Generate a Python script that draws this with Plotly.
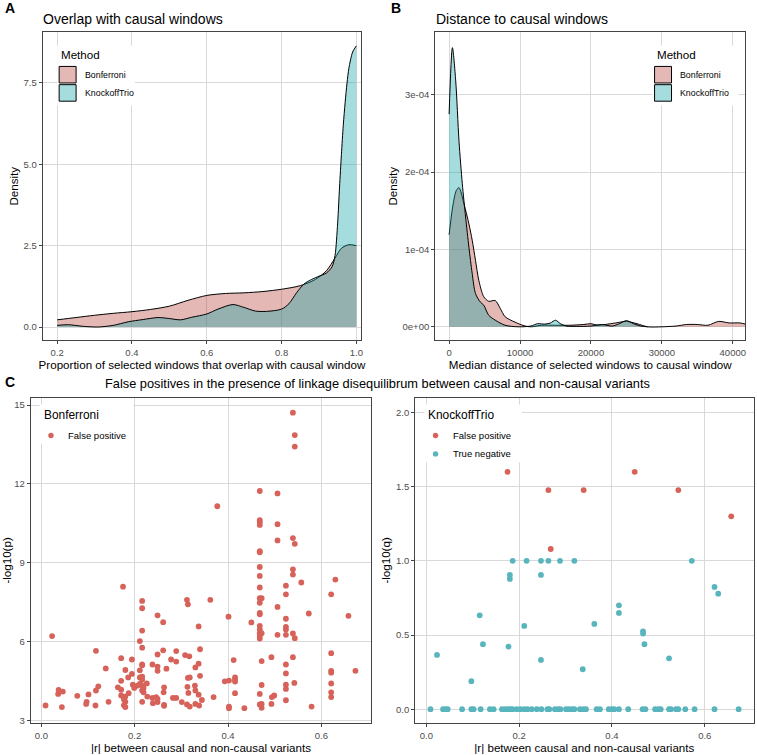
import plotly.graph_objects as go

# ---------------- data ----------------
# Panel A: density of proportion of selected windows overlapping causal window
a_bonf_x = [0.2, 0.25, 0.3, 0.35, 0.4, 0.45, 0.5, 0.55, 0.6, 0.65, 0.7, 0.75, 0.8, 0.85, 0.89, 0.92, 0.943, 0.96, 0.98, 1.0]
a_bonf_y = [0.22, 0.29, 0.36, 0.42, 0.47, 0.54, 0.64, 0.82, 0.97, 1.03, 1.05, 1.09, 1.16, 1.27, 1.46, 1.73, 2.12, 2.42, 2.53, 2.50]
a_ko_x = [0.2, 0.23, 0.27, 0.31, 0.35, 0.39, 0.43, 0.47, 0.5, 0.53, 0.56, 0.6, 0.63, 0.67, 0.7, 0.73, 0.76, 0.8, 0.82,
          0.84, 0.86, 0.88, 0.9, 0.92, 0.935, 0.943, 0.95, 0.955, 0.96, 0.965, 0.97, 0.975, 0.98, 0.99, 1.0]
a_ko_y = [0.05, 0.07, 0.02, 0.0, 0.05, 0.16, 0.23, 0.29, 0.26, 0.22, 0.30, 0.40, 0.55, 0.69, 0.60, 0.49, 0.48, 0.55, 0.72,
          1.05, 1.32, 1.46, 1.56, 1.66, 1.85, 2.2, 3.2, 4.3, 5.3, 6.2, 6.9, 7.5, 7.95, 8.45, 8.64]

# Panel B: density of median distance (values in units of 1e-4)
b_bonf_x = [0, 500, 1000, 1395, 2090, 2790, 3255, 3720, 4190, 4880, 5580, 6500, 7200, 7900, 9300, 10700, 11600, 13000,
            15000, 17000, 19000, 20000, 21000, 22000, 23500, 25000, 26500, 28000, 30000, 32000, 33500, 35000, 36500,
            38000, 39500, 41000, 42000]
b_bonf_y = [1.19, 1.55, 1.76, 1.80, 1.59, 1.33, 1.12, 0.86, 0.60, 0.39, 0.33, 0.34, 0.24, 0.13, 0.06, 0.01, 0.0, 0.02,
            0.02, 0.02, 0.03, 0.04, 0.02, 0.03, 0.05, 0.07, 0.04, 0.0, 0.0, 0.01, 0.03, 0.03, 0.02,
            0.07, 0.05, 0.05, 0.03]
b_ko_x = [0, 465, 930, 1395, 1860, 2325, 2790, 3255, 3720, 4400, 4880, 5580, 6500, 7900, 9770, 11500, 12500, 13500,
          14300, 15000, 15700, 16500, 18000, 20000, 21500, 23000, 24000, 25000, 26000, 27000, 28000]
b_ko_y = [2.75, 3.61, 3.18, 2.40, 1.85, 1.42, 1.03, 0.69, 0.43, 0.32, 0.28, 0.15, 0.086, 0.02, 0.0, 0.01, 0.04, 0.035,
          0.05, 0.085, 0.04, 0.01, 0.005, 0.01, 0.03, 0.01, 0.04, 0.08, 0.04, 0.01, 0.0]
b_unit = 1e-4

# Panel C left: Bonferroni false positives
bonf_r = [0.539, 0.543, 0.543, 0.468, 0.506, 0.377, 0.468, 0.468, 0.468, 0.506,
          0.506, 0.539, 0.543, 0.468, 0.468, 0.468, 0.539, 0.539, 0.468, 0.557,
          0.630, 0.175, 0.524, 0.468, 0.524, 0.621, 0.468, 0.472, 0.468, 0.216,
          0.312, 0.314, 0.362, 0.216, 0.506, 0.468, 0.468, 0.573, 0.249, 0.401,
          0.658, 0.261, 0.450, 0.524, 0.337, 0.468, 0.468, 0.524, 0.524, 0.468,
          0.472, 0.468, 0.468, 0.539, 0.543, 0.506, 0.524, 0.023, 0.216, 0.211,
          0.216, 0.117, 0.340, 0.289, 0.261, 0.249, 0.308, 0.317, 0.621, 0.539,
          0.493, 0.171, 0.194, 0.278, 0.289, 0.472, 0.412, 0.216, 0.216, 0.238,
          0.337, 0.524, 0.138, 0.249, 0.268, 0.330, 0.180, 0.211, 0.249, 0.621,
          0.621, 0.673, 0.524, 0.194, 0.186, 0.211, 0.216, 0.216, 0.314, 0.318,
          0.340, 0.415, 0.415, 0.415, 0.393, 0.402, 0.171, 0.226, 0.196, 0.211,
          0.216, 0.219, 0.122, 0.164, 0.199, 0.206, 0.263, 0.313, 0.329, 0.472,
          0.524, 0.524, 0.542, 0.621, 0.037, 0.046, 0.117, 0.171, 0.216, 0.219,
          0.330, 0.262, 0.036, 0.101, 0.187, 0.315, 0.337, 0.415, 0.468, 0.621,
          0.621, 0.077, 0.171, 0.180, 0.227, 0.246, 0.282, 0.289, 0.369, 0.499,
          0.494, 0.524, 0.344, 0.177, 0.249, 0.238, 0.097, 0.144, 0.180, 0.216,
          0.249, 0.301, 0.330, 0.096, 0.239, 0.009, 0.116, 0.177, 0.263, 0.312,
          0.338, 0.468, 0.472, 0.493, 0.579, 0.044, 0.180, 0.263, 0.318, 0.402,
          0.402, 0.435, 0.472]
bonf_p = [14.71, 13.86, 13.42, 11.73, 11.64, 11.15, 10.62, 10.54, 10.44, 10.47,
          9.85, 9.94, 9.72, 9.44, 9.40, 8.84, 8.75, 8.55, 8.50, 8.25,
          8.36, 8.09, 8.13, 8.06, 7.80, 7.80, 7.65, 7.65, 7.48, 7.55,
          7.59, 7.42, 7.59, 7.27, 7.32, 7.09, 7.04, 7.07, 7.00, 6.95,
          6.98, 6.74, 6.73, 6.87, 6.58, 6.60, 6.47, 6.56, 6.46, 6.32,
          6.32, 6.21, 6.12, 6.31, 6.13, 6.26, 6.26, 6.21, 6.42, 6.02,
          5.77, 5.65, 5.71, 5.64, 5.67, 5.51, 5.49, 5.44, 5.56, 5.41,
          5.41, 5.37, 5.32, 5.32, 5.24, 5.26, 5.30, 5.13, 5.10, 5.13,
          5.16, 5.13, 4.98, 5.05, 4.97, 5.02, 4.92, 4.91, 4.89, 4.89,
          4.82, 4.89, 4.79, 4.77, 4.64, 4.64, 4.67, 4.55, 4.62, 4.64,
          4.70, 4.64, 4.55, 4.48, 4.49, 4.52, 4.51, 4.41, 4.36, 4.39,
          4.33, 4.24, 4.30, 4.26, 4.24, 4.33, 4.26, 4.28, 4.33, 4.35,
          4.36, 4.20, 4.43, 4.41, 4.16, 4.10, 4.14, 4.17, 4.14, 4.07,
          4.14, 4.07, 4.01, 3.99, 4.04, 4.05, 3.98, 4.04, 4.01, 4.07,
          3.89, 3.94, 3.95, 3.91, 3.91, 3.89, 3.86, 3.86, 3.89, 3.95,
          3.89, 3.77, 3.78, 3.80, 3.82, 3.86, 3.71, 3.71, 3.71, 3.71,
          3.70, 3.70, 3.63, 3.63, 3.66, 3.57, 3.57, 3.58, 3.59, 3.61,
          3.57, 3.61, 3.63, 3.63, 3.53, 3.51, 3.51, 3.56, 3.53, 3.53,
          3.47, 3.47, 3.48]

# Panel C right: KnockoffTrio
ko_fp_r = [0.175, 0.449, 0.263, 0.339, 0.543, 0.657, 0.268]
ko_fp_q = [1.60, 1.60, 1.477, 1.477, 1.477, 1.30, 1.08]
ko_tn_r = [0.186, 0.216, 0.247, 0.263, 0.288, 0.319, 0.572, 0.180, 0.180, 0.247, 0.621, 0.629, 0.115, 0.415,
           0.415, 0.211, 0.362, 0.467, 0.467, 0.122, 0.470, 0.177, 0.023, 0.247, 0.523, 0.337, 0.097,
           0.009, 0.036, 0.041, 0.046, 0.077, 0.097, 0.102, 0.117, 0.137, 0.145, 0.163, 0.170, 0.176, 0.181,
           0.186, 0.195, 0.203, 0.211, 0.218, 0.227, 0.238, 0.248, 0.261, 0.265, 0.277, 0.284, 0.289, 0.301,
           0.307, 0.314, 0.319, 0.331, 0.338, 0.344, 0.367, 0.374, 0.393, 0.400, 0.405, 0.415, 0.435, 0.466,
           0.472, 0.493, 0.500, 0.505, 0.523, 0.527, 0.538, 0.543, 0.558, 0.578, 0.621, 0.673]
ko_tn_q = [1.0, 1.0, 1.0, 1.0, 1.0, 1.0, 1.0, 0.905, 0.878, 0.905, 0.824, 0.779, 0.633, 0.70,
           0.649, 0.561, 0.575, 0.525, 0.51, 0.438, 0.438, 0.422, 0.366, 0.332, 0.343, 0.269, 0.189,
           0.0, 0.0, 0.0, 0.0, 0.0, 0.0, 0.0, 0.0, 0.0, 0.0, 0.0, 0.0, 0.0, 0.0,
           0.0, 0.0, 0.0, 0.0, 0.0, 0.0, 0.0, 0.0, 0.0, 0.0, 0.0, 0.0, 0.0, 0.0,
           0.0, 0.0, 0.0, 0.0, 0.0, 0.0, 0.0, 0.0, 0.0, 0.0, 0.0, 0.0, 0.0, 0.0,
           0.0, 0.0, 0.0, 0.0, 0.0, 0.0, 0.0, 0.0, 0.0, 0.0, 0.0, 0.0]

methods = ["Bonferroni", "KnockoffTrio"]
outcomes = ["False positive", "True negative"]

a_xticks = [0.2, 0.4, 0.6, 0.8, 1.0]
a_xlabels = ["0.2", "0.4", "0.6", "0.8", "1.0"]
a_yticks = [0, 2.5, 5, 7.5]
a_ylabels = ["0.0", "2.5", "5.0", "7.5"]
b_xticks = [0, 10000, 20000, 30000, 40000]
b_xlabels = ["0", "10000", "20000", "30000", "40000"]
b_yticks = [0, 1e-4, 2e-4, 3e-4]
b_ylabels = ["0e+00", "1e-04", "2e-04", "3e-04"]
c_xticks = [0, 0.2, 0.4, 0.6]
c_xlabels = ["0.0", "0.2", "0.4", "0.6"]
cl_yticks = [3, 6, 9, 12, 15]
cl_ylabels = ["3", "6", "9", "12", "15"]
cr_yticks = [0, 0.5, 1.0, 1.5, 2.0]
cr_ylabels = ["0.0", "0.5", "1.0", "1.5", "2.0"]

# ---------------- style ----------------
W, H = 757, 755
FONT = "Liberation Sans, Arial, Helvetica, sans-serif"
PINK_FILL = "rgba(182,66,55,0.37)"
TEAL_FILL = "rgba(12,160,166,0.37)"
RED_PT = "#D7625A"
TEAL_PT = "#58B5BE"
GRID = "#d9d9d9"
BORDER = "#444444"
TICKC = "#4d4d4d"


def px(x):
    return x / W


def py(y):
    return 1 - y / H


fig = go.Figure()

# Panel A
fig.add_trace(go.Scatter(x=a_bonf_x, y=a_bonf_y, mode="lines", fill="tozeroy", fillcolor=PINK_FILL,
                         line=dict(color="black", width=1, shape="spline", smoothing=0.8),
                         xaxis="x", yaxis="y", showlegend=False, name=methods[0]))
fig.add_trace(go.Scatter(x=a_ko_x, y=a_ko_y, mode="lines", fill="tozeroy", fillcolor=TEAL_FILL,
                         line=dict(color="black", width=1, shape="spline", smoothing=0.8),
                         xaxis="x", yaxis="y", showlegend=False, name=methods[1]))
# Panel B
fig.add_trace(go.Scatter(x=b_bonf_x, y=[v * b_unit for v in b_bonf_y], mode="lines", fill="tozeroy",
                         fillcolor=PINK_FILL, line=dict(color="black", width=1, shape="spline", smoothing=0.8),
                         xaxis="x2", yaxis="y2", showlegend=False, name=methods[0]))
fig.add_trace(go.Scatter(x=b_ko_x, y=[v * b_unit for v in b_ko_y], mode="lines", fill="tozeroy",
                         fillcolor=TEAL_FILL, line=dict(color="black", width=1, shape="spline", smoothing=0.8),
                         xaxis="x2", yaxis="y2", showlegend=False, name=methods[1]))
# Panel C left
fig.add_trace(go.Scatter(x=bonf_r, y=bonf_p, mode="markers", marker=dict(color=RED_PT, size=5.8),
                         xaxis="x3", yaxis="y3", showlegend=False, name=outcomes[0]))
# Panel C right
fig.add_trace(go.Scatter(x=ko_tn_r, y=ko_tn_q, mode="markers", marker=dict(color=TEAL_PT, size=5.8),
                         xaxis="x4", yaxis="y4", showlegend=False, name=outcomes[1]))
fig.add_trace(go.Scatter(x=ko_fp_r, y=ko_fp_q, mode="markers", marker=dict(color=RED_PT, size=5.8),
                         xaxis="x4", yaxis="y4", showlegend=False, name=outcomes[0]))


def axis(domain, rng, tickvals, ticktext, title, anchor, standoff=4):
    return dict(domain=domain, range=rng, tickvals=tickvals, ticktext=ticktext, anchor=anchor,
                showgrid=True, gridcolor=GRID, gridwidth=0.8, zeroline=False,
                showline=True, linecolor=BORDER, linewidth=1, mirror=True,
                ticks="outside", ticklen=3, tickcolor=BORDER, tickwidth=1,
                ticklabeloverflow="allow",
                tickfont=dict(family=FONT, size=9.5, color=TICKC),
                title=dict(text=title, font=dict(family=FONT, size=11.6, color="black"), standoff=standoff))


ax_a = [px(42.7), px(362.3)]
ax_b = [px(436.3), px(747.3)]
ay_ab = [py(341.7), py(32.3)]
ax_cl = [px(30.7), px(372.3)]
ax_cr = [px(416.3), px(755.5)]
ay_c = [py(726), py(399.3)]

fig.update_layout(
    width=W, height=H, autosize=False,
    margin=dict(l=0, r=0, t=0, b=0),
    paper_bgcolor="white", plot_bgcolor="white",
    font=dict(family=FONT),
    xaxis=axis(ax_a, [0.161, 1.0133], a_xticks, a_xlabels,
               "Proportion of selected windows that overlap with causal window", "y", 0),
    yaxis=axis(ay_ab, [-0.41, 9.06], a_yticks, a_ylabels, "Density", "x", 2),
    xaxis2=axis(ax_b, [-1970, 41770], b_xticks, b_xlabels,
                "Median distance of selected windows to causal window", "y2", 0),
    yaxis2=axis(ay_ab, [-0.175e-4, 3.81e-4], b_yticks, b_ylabels, "Density", "x2", 2),
    xaxis3=axis(ax_cl, [-0.023, 0.707], c_xticks, c_xlabels,
                "|r| between causal and non-causal variants", "y3", 0),
    yaxis3=axis(ay_c, [2.9, 15.28], cl_yticks, cl_ylabels, "-log10(p)", "x3", 3),
    xaxis4=axis(ax_cr, [-0.024, 0.705], c_xticks, c_xlabels,
                "|r| between causal and non-causal variants", "y4", 0),
    yaxis4=axis(ay_c, [-0.094, 2.10], cr_yticks, cr_ylabels, "-log10(q)", "x4", 3),
)

ann = []
shapes = []


def text(x, y, s, size, bold=False, xanchor="left", color="black"):
    ann.append(dict(x=px(x), y=py(y), xref="paper", yref="paper", text=("<b>%s</b>" % s) if bold else s,
                    showarrow=False, xanchor=xanchor, yanchor="middle",
                    font=dict(family=FONT, size=size, color=color)))


# panel letters and titles
text(3, 8, "A", 14, bold=True)
text(390, 8, "B", 14, bold=True)
text(3, 384, "C", 14, bold=True)
text(41.0, 19, "Overlap with causal windows", 14)
text(435.5, 19, "Distance to causal windows", 14)
text(378, 385.5, "False positives in the presence of linkage disequilibrum between causal and non-causal variants",
     12.8, xanchor="center")


# density legends (manual, ggplot style)
def density_legend(x0, bg_w):
    shapes.append(dict(type="rect", xref="paper", yref="paper", x0=px(x0 - 2), x1=px(x0 - 2 + bg_w),
                       y0=py(106), y1=py(46), fillcolor="white", line=dict(width=0), layer="above"))
    text(x0, 55, "Method", 11.6)
    for i, (m, col) in enumerate(zip(methods, [PINK_FILL, TEAL_FILL])):
        y0 = 66.7 + i * 18.3
        shapes.append(dict(type="rect", xref="paper", yref="paper", x0=px(x0), x1=px(x0 + 17),
                           y0=py(y0 + 16.6), y1=py(y0), fillcolor=col,
                           line=dict(color="black", width=1), layer="above"))
        text(x0 + 23.5, y0 + 8.3, m, 8.8)


density_legend(59.3, 78)
density_legend(656.3, 86)


# scatter legends
def dot_legend(x0, title, items, bg_w):
    n = len(items)
    shapes.append(dict(type="rect", xref="paper", yref="paper", x0=px(x0 - 2), x1=px(x0 - 2 + bg_w),
                       y0=py(427 + 18.5 * n), y1=py(406), fillcolor="white", line=dict(width=0), layer="above"))
    text(x0, 416.5, title, 11.9)
    for i, (lab, col) in enumerate(items):
        yc = 437.2 + i * 18.5
        r = 2.7
        shapes.append(dict(type="circle", xref="paper", yref="paper", x0=px(x0 + 9.4 - r), x1=px(x0 + 9.4 + r),
                           y0=py(yc + r), y1=py(yc - r), fillcolor=col, line=dict(width=0), layer="above"))
        text(x0 + 24.5, yc, lab, 9.5)


dot_legend(41.7, "Bonferroni", [(outcomes[0], RED_PT)], 94)
dot_legend(427.3, "KnockoffTrio", [(outcomes[0], RED_PT), (outcomes[1], TEAL_PT)], 98)

fig.update_layout(annotations=ann, shapes=shapes)
fig.write_html("out.html", config={"displayModeBar": False},
               post_script="document.body.style.margin='0';document.body.style.padding='0';"
                           "document.documentElement.style.overflow='hidden';")
